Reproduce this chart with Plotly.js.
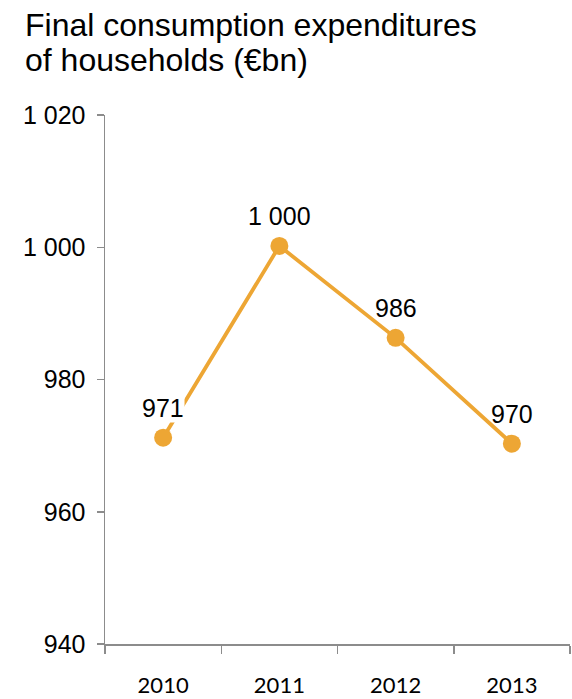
<!DOCTYPE html>
<html>
<head>
<meta charset="utf-8">
<script src="https://cdn.plot.ly/plotly-3.0.1.min.js"></script>
<style>html,body{margin:0;padding:0;background:#fff;}#chart{width:572px;height:699px;}</style>
</head>
<body>
<div id="chart"></div>
<script>
const titleLines = ["Final consumption expenditures", "of households (€bn)"];
const years = ["2010", "2011", "2012", "2013"];
const values = [971.2, 1000.2, 986.3, 970.3];
const labels = ["971", "1 000", "986", "970"];
const yTicks = [940, 960, 980, 1000, 1020];
const yTickLabels = ["940", "960", "980", "1 000", "1 020"];

const orange = "#EDA634";
const axisGray = "#8c8c8c";
const arial = "Liberation Sans, Arial, sans-serif";

const trace = {
  x: years, y: values, type: "scatter", mode: "lines+markers",
  line: {color: orange, width: 3.8},
  marker: {color: orange, size: 18},
  hoverinfo: "skip", showlegend: false
};

const annotations = years.map((yr, i) => ({
  x: i, y: values[i], xref: "x", yref: "y",
  text: labels[i], showarrow: false, yshift: 30,
  bgcolor: i === 0 ? "#ffffff" : "rgba(0,0,0,0)", borderpad: 0,
  font: {family: arial, size: 25, color: "#000"}
}));

const titleShifts = [90, 55];
titleLines.forEach((t, i) => {
  annotations.push({
    x: 0, y: 1, xref: "paper", yref: "paper",
    xanchor: "left", yanchor: "middle", xshift: -82, yshift: titleShifts[i],
    text: t, showarrow: false,
    font: {family: arial, size: 32, color: "#000"}
  });
});

const layout = {
  width: 572, height: 699,
  margin: {l: 105, r: 2, t: 115, b: 55},
  paper_bgcolor: "#fff", plot_bgcolor: "#fff",
  xaxis: {
    type: "category", range: [-0.5, 3.5],
    showline: true, linecolor: axisGray, linewidth: 1.5,
    ticks: "outside", tickson: "boundaries", ticklen: 8, tickcolor: axisGray, tickwidth: 1.5,
    showgrid: false, zeroline: false,
    tickfont: {family: "Lato, Open Sans, sans-serif", size: 22, color: "#000"},
    ticklabelstandoff: 21, fixedrange: true
  },
  yaxis: {
    range: [940, 1020], tickmode: "array", tickvals: yTicks, ticktext: yTickLabels,
    showline: true, linecolor: axisGray, linewidth: 1.5,
    ticks: "outside", ticklen: 7, tickcolor: axisGray, tickwidth: 1.5,
    showgrid: false, zeroline: false,
    tickfont: {family: arial, size: 25, color: "#000"},
    ticklabelstandoff: 6, fixedrange: true
  },
  annotations: annotations
};

Plotly.newPlot("chart", [trace], layout, {displayModeBar: false, staticPlot: true});
</script>
</body>
</html>
